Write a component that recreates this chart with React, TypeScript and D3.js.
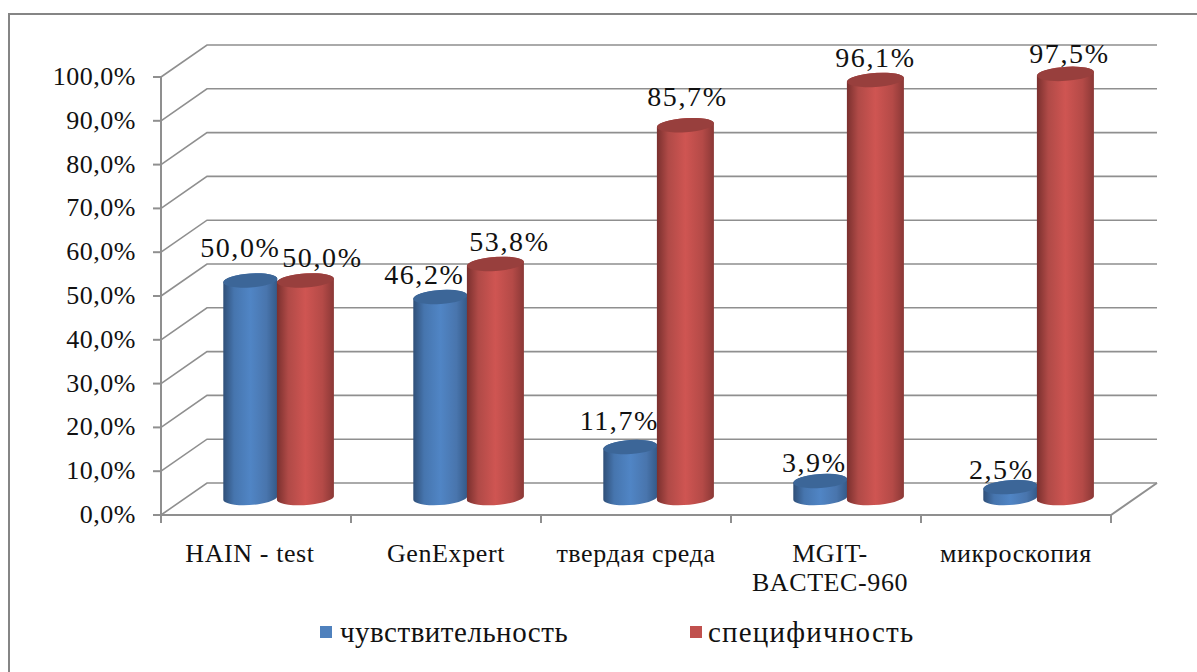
import React from 'react';
import * as d3 from 'd3';

const categories = ['HAIN - test', 'GenExpert', 'твердая среда', 'MGIT-|BACTEC-960', 'микроскопия'];
const sensitivity = [50.0, 46.2, 11.7, 3.9, 2.5];
const specificity = [50.0, 53.8, 85.7, 96.1, 97.5];
const yTicks = d3.range(0, 101, 10);

// hand placed labels, shifted like in the source chart
const sensitivityLabelShift = [[-10, -24], [-16, -13], [-11, -17], [-6, -9], [-9, -8]];
const specificityLabelShift = [[17, -14], [14, -13], [2, -19], [0, -13], [4, -11]];
const categoryLabelShift = [-6, 0, 0, 4, 0];

const WIDTH = 1197;
const HEIGHT = 672;
const FONT = '"Liberation Serif", "Times New Roman", serif';
const GRID = '#8f8f8f';

const BACK_DX = 46;
const BACK_DY = -32;
const BLUE_RX = 27;
const RED_RX = 28.5;
const RY = 7;
const TILT = 1.5;
const BASE_Y = 498;

const x = d3.scaleBand<string>().domain(categories).range([161, 1111]);
const y = d3.scaleLinear().domain([0, 100]).range([515, 77]);
// bars sit midway into the floor, so their height scale differs a little from the axis
const barHeight = d3.scaleLinear().domain([0, 100]).range([0, 435]);
const fmt = (v: number) => v.toFixed(1).replace('.', ',') + '%';

function cylinderBody(cx: number, rx: number, top: number, bottom: number) {
  const arc = `${rx},${RY} -4 0 0`;
  return `M${cx - rx},${top + TILT} L${cx - rx},${bottom + TILT} A${arc} ${cx + rx},${bottom - TILT} L${cx + rx},${top - TILT} A${arc} ${cx - rx},${top + TILT} Z`;
}

const Cylinder: React.FC<{ cx: number; rx: number; value: number; id: string; topColor: string }> = ({ cx, rx, value, id, topColor }) => {
  const top = BASE_Y - barHeight(value);
  return (
    <g>
      <path d={cylinderBody(cx, rx, top, BASE_Y)} fill={`url(#${id})`} />
      <ellipse cx={cx} cy={top} rx={rx} ry={RY} fill={topColor} transform={`rotate(-4 ${cx} ${top})`} />
    </g>
  );
};

const App: React.FC = () => {
  const step = x.step();
  const blueX = (c: string) => (x(c) as number) + step * 0.47;
  const redX = (c: string) => (x(c) as number) + step * 0.76;

  return (
    <svg width={WIDTH} height={HEIGHT} style={{ position: 'absolute', left: 0, top: 0, background: '#fff' }} fontFamily={FONT}>
      <defs>
        <linearGradient id="blueBar">
          <stop offset="0" stopColor="#2f4f78" />
          <stop offset="0.2" stopColor="#4675ae" />
          <stop offset="0.5" stopColor="#5085c5" />
          <stop offset="0.8" stopColor="#4975ad" />
          <stop offset="1" stopColor="#345a88" />
        </linearGradient>
        <linearGradient id="redBar">
          <stop offset="0" stopColor="#7a302e" />
          <stop offset="0.2" stopColor="#b04a47" />
          <stop offset="0.5" stopColor="#cf5552" />
          <stop offset="0.8" stopColor="#b44a47" />
          <stop offset="1" stopColor="#8a3836" />
        </linearGradient>
      </defs>

      {/* frame: only top and left edges show */}
      <path d={`M9,${HEIGHT} L9,14 L${WIDTH},14`} fill="none" stroke="#858585" strokeWidth={2} />

      {/* walls */}
      {yTicks.map(t => (
        <g key={t}>
          <path
            d={`M${x.range()[0]},${y(t)} L${x.range()[0] + BACK_DX},${y(t) + BACK_DY} L${x.range()[1] + BACK_DX},${y(t) + BACK_DY}`}
            fill="none" stroke={GRID} strokeWidth={1.6}
          />
          <line x1={153} x2={161} y1={y(t)} y2={y(t)} stroke={GRID} strokeWidth={2} />
          <text x={136} y={y(t) + 8} textAnchor="end" fontSize={26} letterSpacing={0.5} fill="#111">{fmt(t)}</text>
        </g>
      ))}
      <line x1={161} x2={161} y1={y(100)} y2={y(0)} stroke={GRID} strokeWidth={2} />

      {/* floor */}
      <path
        d={`M${x.range()[0]},${y(0)} L${x.range()[1]},${y(0)} L${x.range()[1] + BACK_DX},${y(0) + BACK_DY}`}
        fill="none" stroke={GRID} strokeWidth={2}
      />
      {[...categories.map(c => x(c) as number), x.range()[1]].map(t => (
        <line key={t} x1={t} x2={t} y1={y(0)} y2={y(0) + 8} stroke={GRID} strokeWidth={2} />
      ))}

      {/* bars */}
      {categories.map((c, i) => (
        <g key={c}>
          <Cylinder cx={blueX(c)} rx={BLUE_RX} value={sensitivity[i]} id="blueBar" topColor="#3c6698" />
          <Cylinder cx={redX(c)} rx={RED_RX} value={specificity[i]} id="redBar" topColor="#983f3d" />
        </g>
      ))}

      {/* data labels */}
      {categories.map((c, i) => (
        <g key={c} fontSize={28} letterSpacing={1.6} fill="#111" textAnchor="middle">
          <text x={blueX(c) + sensitivityLabelShift[i][0]} y={BASE_Y - barHeight(sensitivity[i]) + sensitivityLabelShift[i][1]}>
            {fmt(sensitivity[i])}
          </text>
          <text x={redX(c) + specificityLabelShift[i][0]} y={BASE_Y - barHeight(specificity[i]) + specificityLabelShift[i][1]}>
            {fmt(specificity[i])}
          </text>
        </g>
      ))}

      {/* category labels */}
      {categories.map((c, i) => (
        <text key={c} textAnchor="middle" fontSize={26} letterSpacing={0.6} fill="#111">
          {c.split('|').map((line, j) => (
            <tspan key={line} x={(x(c) as number) + step / 2 + categoryLabelShift[i]} y={562 + j * 29}>{line}</tspan>
          ))}
        </text>
      ))}

      {/* legend */}
      <rect x={320} y={626} width={12} height={12} fill="#4f81bd" />
      <text x={340} y={642} fontSize={29} letterSpacing={0.5} fill="#111">чувствительность</text>
      <rect x={690} y={626} width={12} height={12} fill="#c0504d" />
      <text x={708} y={642} fontSize={29} letterSpacing={1.2} fill="#111">специфичность</text>
    </svg>
  );
};

export default App;
